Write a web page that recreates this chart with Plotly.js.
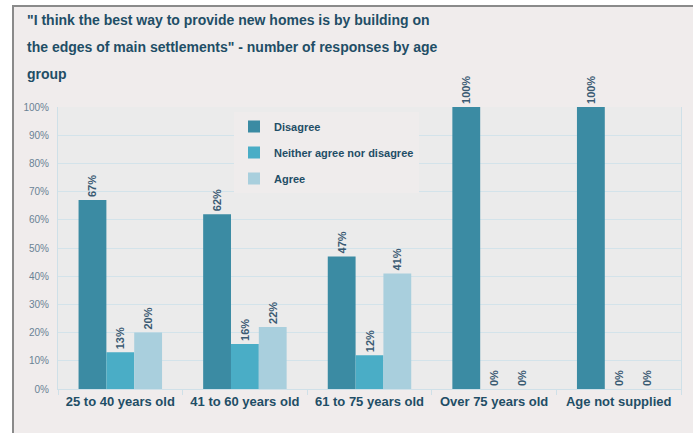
<!DOCTYPE html>
<html>
<head>
<meta charset="utf-8">
<script src="https://cdn.plot.ly/plotly-3.0.1.min.js"></script>
<style>
html,body{margin:0;padding:0;background:#ffffff;}
#frame{position:absolute;left:12px;top:5px;width:681px;height:428px;background:#f0ecec;border-left:2px solid #8a8a8a;border-top:2px solid #8a8a8a;box-sizing:border-box;}
#chart{position:absolute;left:0;top:0;width:693px;height:433px;}
</style>
</head>
<body>
<div id="frame"></div>
<div id="chart"></div>
<script>
var categories = ["25 to 40 years old", "41 to 60 years old", "61 to 75 years old", "Over 75 years old", "Age not supplied"];
var disagree = [67, 62, 47, 100, 100];
var neither = [13, 16, 12, 0, 0];
var agree = [20, 22, 41, 0, 0];
var seriesNames = ["Disagree", "Neither agree nor disagree", "Agree"];
var seriesColors = ["#3b8ba3", "#4aadc6", "#a9cfdd"];
var yTickVals = [0, 10, 20, 30, 40, 50, 60, 70, 80, 90, 100];
var yTickText = yTickVals.map(function(v){ return v + "%"; });
var titleLines = ["\"I think the best way to provide new homes is by building on",
                  "the edges of main settlements\" - number of responses by age",
                  "group"];

var font = "Liberation Sans, Arial, sans-serif";
var labelColor = "#3a5a72";

function mk(vals, i) {
  return {
    type: "bar",
    x: categories,
    y: vals,
    name: seriesNames[i],
    legendgroup: "g" + i,
    marker: {color: seriesColors[i]},
    text: vals.map(function(v){ return v + "%"; }),
    texttemplate: "%{text}",
    textposition: "outside",
    textangle: -90,
    constraintext: "none",
    cliponaxis: false,
    textfont: {family: font, size: 11, color: labelColor, weight: "bold"},
    hoverinfo: "skip"
  };
}

var data = [mk(disagree, 0), mk(neither, 1), mk(agree, 2)];

var L = 58, R = 12, T = 107, B = 44;
var plotW = 693 - L - R, plotH = 433 - T - B;
function px2x(px){ return (px - L) / plotW; }
function py2y(py){ return 1 - (py - T) / plotH; }

var annotations = titleLines.map(function(t, i){
  return {
    text: t, xref: "paper", yref: "paper",
    x: px2x(25), y: py2y(20 + i * 27),
    xanchor: "left", yanchor: "middle", showarrow: false,
    font: {family: font, size: 14, color: "#1f4e66", weight: "bold"}
  };
});

var layout = {
  width: 693, height: 433,
  margin: {l: L, r: R, t: T, b: B, pad: 0},
  paper_bgcolor: "rgba(0,0,0,0)",
  plot_bgcolor: "#ebebeb",
  barmode: "group",
  bargap: 0.33,
  bargroupgap: 0,
  showlegend: true,
  legend: {
    x: px2x(234), y: py2y(112), xanchor: "left", yanchor: "top",
    bgcolor: "#efecec",
    font: {family: font, size: 11, color: "#1f4e66", weight: "bold"},
    traceorder: "grouped",
    tracegroupgap: 7,
    itemwidth: 30
  },
  xaxis: {
    type: "category",
    tickfont: {family: font, size: 13, color: "#1f4e66", weight: "bold"},
    showline: true, linecolor: "#cfe0e8", linewidth: 1,
    ticks: "outside", tickson: "boundaries", ticklen: 5, tickcolor: "#cfe0e8",
    showgrid: false,
    fixedrange: true
  },
  yaxis: {
    range: [0, 100],
    tickvals: yTickVals, ticktext: yTickText,
    tickfont: {family: font, size: 10, color: "#6a8294"},
    showgrid: true, gridcolor: "#d3e3ea", gridwidth: 1,
    showline: true, linecolor: "#cfe0e8", mirror: true,
    ticks: "", ticklabelstandoff: 6,
    zeroline: false,
    fixedrange: true
  },
  annotations: annotations
};

Plotly.newPlot("chart", data, layout, {displayModeBar: false, staticPlot: true});
</script>
</body>
</html>
